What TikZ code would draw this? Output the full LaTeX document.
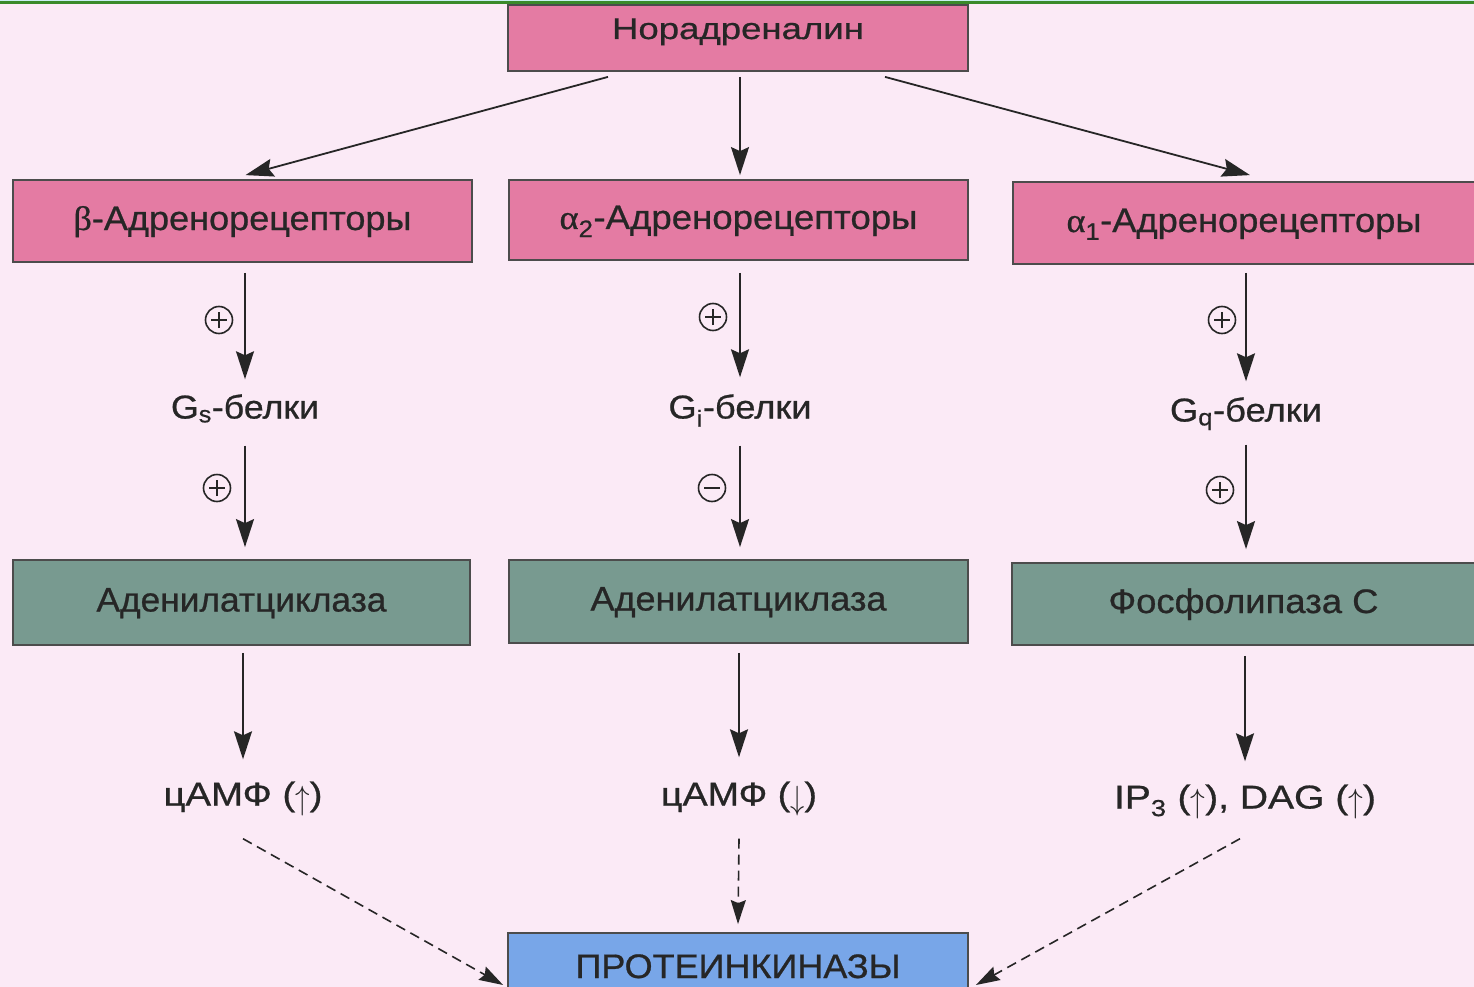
\documentclass[tikz,border=0pt]{standalone}
\usepackage{fontspec}
\setmainfont{Liberation Sans}[FakeBold=0.7]
\newfontfamily\grk{Liberation Serif}[FakeBold=0.7]
\usepackage{graphicx}
\usetikzlibrary{arrows.meta,calc}
\newcommand{\fw}[2]{\resizebox{#1}{\height}{#2}}
\newcommand{\upar}{\raisebox{-0.12em}{\scalebox{1}[1.35]{$\uparrow$}}}
\newcommand{\dnar}{\raisebox{-0.12em}{\scalebox{1}[1.35]{$\downarrow$}}}
\definecolor{bgpink}{HTML}{FBEAF6}
\definecolor{boxpink}{HTML}{E47BA3}
\definecolor{boxteal}{HTML}{789A90}
\definecolor{boxblue}{HTML}{78A6E8}
\definecolor{topgreen}{HTML}{3A8A2A}
\definecolor{topcyan}{HTML}{C8F0F0}
\definecolor{ink}{HTML}{262626}
\tikzset{
  box/.style={draw=black!70, line width=1.8pt, inner sep=0pt, text=ink,
    font=\fontsize{34}{40}\selectfont, text height=25pt, text depth=7pt},
  pinkbox/.style={box, fill=boxpink},
  tealbox/.style={box, fill=boxteal},
  bluebox/.style={box, fill=boxblue},
  txt/.style={inner sep=0pt, text=ink, font=\fontsize{33}{39}\selectfont,
    text height=24pt, text depth=7pt},
  arr/.style={draw=ink, line width=1.8pt, -{Stealth[length=28pt,width=18pt,inset=4pt]}},
  darr/.style={draw=ink, line width=1.6pt, dash pattern=on 10pt off 6pt,
    -{Stealth[length=24pt,width=15pt,inset=3pt]}},
  sign/.style={circle, draw=ink, line width=1.6pt, minimum size=27pt, inner sep=0pt},
  plussign/.style={sign, path picture={
    \draw[ink, line width=2.4pt]
      ([xshift=-8pt]path picture bounding box.center) -- ([xshift=8pt]path picture bounding box.center)
      ([yshift=-8pt]path picture bounding box.center) -- ([yshift=8pt]path picture bounding box.center);}},
  minussign/.style={sign, path picture={
    \draw[ink, line width=2.4pt]
      ([xshift=-8pt]path picture bounding box.center) -- ([xshift=8pt]path picture bounding box.center);}}
}
\begin{document}
\begin{tikzpicture}[x=1pt,y=-1pt]
\fill[bgpink] (0,0) rectangle (1474,987);
\useasboundingbox (0,0) rectangle (1474,987);
\fill[topcyan] (0,0) rectangle (1474,2);
% boxes
\node[pinkbox, minimum width=460pt, minimum height=66pt, font=\fontsize{30}{36}\selectfont] (nor) at (738,38) {\raisebox{8pt}{\fw{252pt}{Норадреналин}}};
\draw[topgreen, line width=3pt] (0,3) -- (1474,3);
\node[pinkbox, minimum width=459pt, minimum height=82pt] (rb) at (242.5,221) {\fw{338pt}{{\grk β}-Адренорецепторы}};
\node[pinkbox, minimum width=459pt, minimum height=80pt] (ra2) at (738.5,220) {\fw{358pt}{{\grk α}\textsubscript{2}-Адренорецепторы}};
\node[pinkbox, minimum width=462pt, minimum height=82pt] (ra1) at (1244,223) {\fw{355pt}{{\grk α}\textsubscript{1}-Адренорецепторы}};
\node[tealbox, minimum width=457pt, minimum height=85pt] (ac1) at (241.5,602.5) {\fw{290pt}{Аденилатциклаза}};
\node[tealbox, minimum width=459pt, minimum height=83pt] (ac2) at (738.5,601.5) {\fw{296pt}{Аденилатциклаза}};
\node[tealbox, minimum width=463pt, minimum height=82pt] (plc) at (1243.5,604) {\fw{270pt}{Фосфолипаза С}};
\node[bluebox, minimum width=460pt, minimum height=82pt] (pk) at (738,974) {\raisebox{5pt}{\fw{325pt}{ПРОТЕИНКИНАЗЫ}}};
% text nodes
\node[txt] (gs) at (245,410) {\fw{148pt}{G\textsubscript{s}-белки}};
\node[txt] (gi) at (740,410) {\fw{143pt}{G\textsubscript{i}-белки}};
\node[txt] (gq) at (1246,413) {\fw{152pt}{G\textsubscript{q}-белки}};
\node[txt] (c1) at (243,797) {\fw{159pt}{цАМФ (\upar)}};
\node[txt] (c2) at (739,797) {\fw{156pt}{цАМФ (\dnar)}};
\node[txt] (ip) at (1245,800) {\fw{262pt}{IP\textsubscript{3} (\upar), DAG (\upar)}};
% signs
\node[plussign] (s1) at (219,320) {};
\node[plussign] (s2) at (217,488) {};
\node[plussign] (s3) at (713,317) {};
\node[minussign] (s4) at (712,488) {};
\node[plussign] (s5) at (1222,320) {};
\node[plussign] (s6) at (1220,490) {};
% arrows from noradrenaline
\draw[arr] ([xshift=-130pt,yshift=-5pt]nor.south) -- ([xshift=3pt,yshift=4pt]rb.north);
\draw[arr] ([xshift=2pt,yshift=-5pt]nor.south) -- ([xshift=1.5pt,yshift=4pt]ra2.north);
\draw[arr] ([xshift=147pt,yshift=-5pt]nor.south) -- ([xshift=6pt,yshift=6pt]ra1.north);
% column 1
\draw[arr, shorten <=10pt, shorten >=15pt] (rb.south -| gs) -- (gs.north);
\draw[arr, shorten <=20pt, shorten >=12pt] (gs.south) -- (gs.south |- ac1.north);
\draw[arr, shorten <=7pt, shorten >=22pt] (ac1.south -| c1) -- (c1.north);
% column 2
\draw[arr, shorten <=12pt, shorten >=17pt] (ra2.south -| gi) -- (gi.north);
\draw[arr, shorten <=20pt, shorten >=12pt] (gi.south) -- (gi.south |- ac2.north);
\draw[arr, shorten <=9pt, shorten >=24pt] (ac2.south -| c2) -- (c2.north);
% column 3
\draw[arr, shorten <=8pt, shorten >=16pt] (ra1.south -| gq) -- (gq.north);
\draw[arr, shorten <=16pt, shorten >=13pt] (gq.south) -- (gq.south |- plc.north);
\draw[arr, shorten <=10pt, shorten >=23pt] (plc.south -| ip) -- (ip.north);
% dashed arrows to protein kinases
\draw[darr] ([yshift=-26pt]c1.south) -- ([xshift=-4pt,yshift=-11pt]pk.west);
\draw[darr] ([yshift=-26pt]c2.south) -- ([yshift=8pt]pk.north);
\draw[darr] ([xshift=-5pt,yshift=-23pt]ip.south) -- ([xshift=7pt,yshift=-11pt]pk.east);
\end{tikzpicture}
\end{document}
